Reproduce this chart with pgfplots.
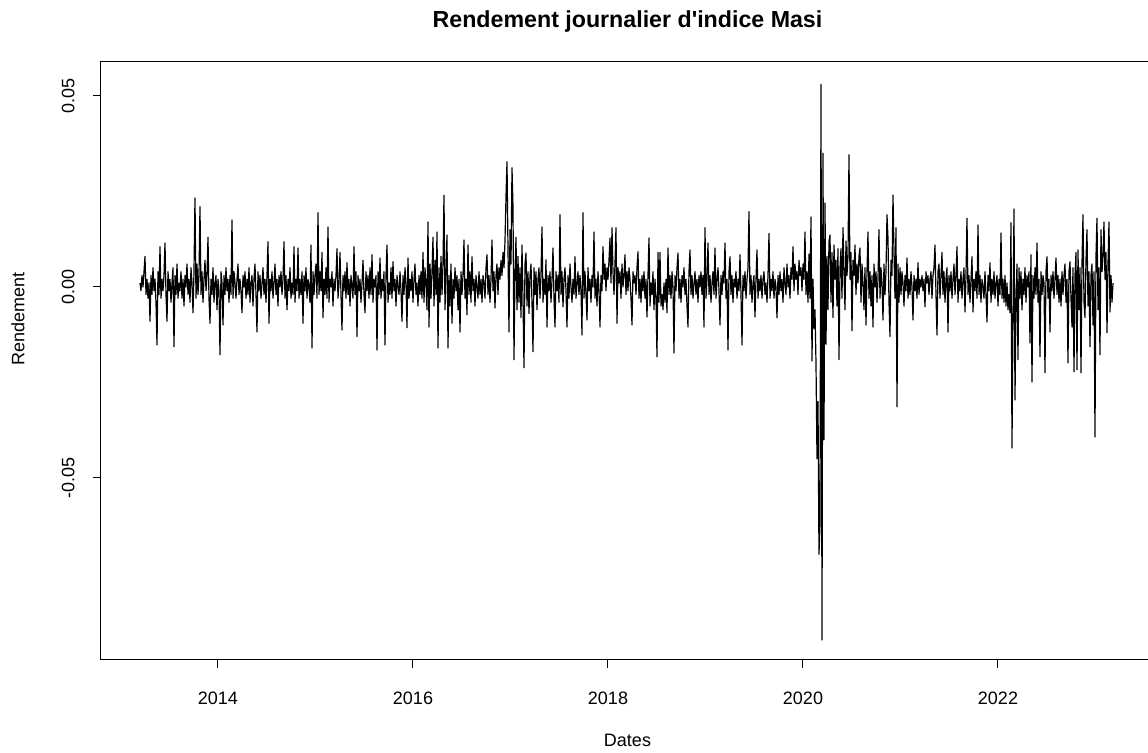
\documentclass[border=0pt]{standalone}
\usepackage{fontspec}
\setmainfont{Liberation Sans}
\usepackage{pgfplots}
\usepackage{pgfplotstable}
\pgfplotsset{compat=1.18}
% daily returns of the MASI index, one value per trading-day step
\pgfplotstableread[row sep=\\]{
r\\
0.001\\ -0.001\\ 0.003\\ 0.000\\ 0.004\\ 0.008\\ -0.002\\ 0.002\\ -0.003\\ 0.001\\ -0.009\\ 0.003\\ -0.002\\ 0.005\\ -0.001\\ 0.002\\ -0.004\\ -0.0152\\ 0.004\\ -0.002\\
0.0105\\ -0.003\\ 0.002\\ -0.001\\ 0.003\\ 0.0115\\ -0.002\\ -0.009\\ 0.004\\ -0.001\\ 0.002\\ -0.004\\ 0.001\\ 0.005\\ -0.0157\\ 0.003\\ -0.002\\ 0.006\\ -0.003\\ 0.001\\
-0.001\\ 0.004\\ -0.003\\ 0.002\\ -0.005\\ 0.003\\ 0.000\\ 0.006\\ -0.002\\ 0.002\\ -0.004\\ 0.005\\ 0.001\\ -0.0068\\ 0.004\\ 0.0233\\ -0.003\\ 0.006\\ -0.002\\ 0.003\\
0.021\\ -0.002\\ 0.004\\ -0.004\\ 0.002\\ 0.007\\ -0.001\\ 0.003\\ 0.013\\ -0.003\\ -0.0095\\ 0.002\\ -0.002\\ 0.005\\ -0.004\\ 0.001\\ 0.003\\ -0.006\\ 0.002\\ -0.001\\
-0.0178\\ 0.004\\ 0.001\\ -0.010\\ 0.003\\ -0.002\\ 0.005\\ -0.001\\ 0.002\\ -0.004\\ 0.003\\ -0.002\\ 0.0175\\ -0.003\\ 0.004\\ 0.001\\ -0.003\\ 0.002\\ 0.006\\ -0.002\\
0.002\\ -0.001\\ -0.0068\\ 0.003\\ 0.000\\ 0.004\\ -0.003\\ 0.002\\ -0.002\\ 0.005\\ -0.004\\ 0.001\\ 0.003\\ -0.005\\ 0.002\\ 0.006\\ -0.002\\ -0.0118\\ 0.004\\ -0.001\\
0.003\\ -0.003\\ 0.001\\ 0.005\\ -0.002\\ 0.002\\ -0.004\\ 0.003\\ 0.0118\\ -0.0095\\ 0.002\\ -0.001\\ 0.004\\ -0.003\\ 0.001\\ 0.006\\ -0.002\\ 0.002\\ -0.005\\ 0.003\\
0.000\\ 0.004\\ -0.002\\ 0.002\\ 0.0118\\ -0.003\\ 0.003\\ -0.006\\ 0.002\\ -0.001\\ 0.005\\ -0.003\\ 0.001\\ -0.002\\ 0.0105\\ -0.004\\ 0.002\\ -0.001\\ 0.0102\\ -0.003\\
0.002\\ -0.002\\ 0.004\\ -0.0095\\ 0.003\\ -0.001\\ 0.005\\ -0.003\\ 0.002\\ 0.000\\ -0.004\\ 0.011\\ -0.016\\ 0.004\\ -0.002\\ 0.003\\ 0.006\\ -0.003\\ 0.0194\\ -0.002\\
0.004\\ -0.001\\ 0.009\\ -0.008\\ 0.002\\ -0.002\\ 0.005\\ -0.003\\ 0.0157\\ -0.004\\ 0.002\\ 0.000\\ 0.004\\ -0.005\\ 0.002\\ -0.001\\ 0.003\\ 0.010\\ -0.003\\ 0.001\\
0.009\\ -0.002\\ -0.0113\\ 0.003\\ -0.001\\ 0.004\\ -0.003\\ 0.0063\\ -0.002\\ 0.002\\ -0.005\\ 0.003\\ 0.000\\ -0.003\\ 0.0105\\ -0.002\\ 0.004\\ -0.013\\ 0.003\\ -0.001\\
0.002\\ -0.004\\ 0.001\\ 0.007\\ -0.002\\ -0.0068\\ 0.004\\ -0.001\\ 0.003\\ -0.003\\ 0.005\\ -0.002\\ 0.0084\\ -0.004\\ 0.002\\ 0.000\\ 0.003\\ -0.0165\\ 0.004\\ -0.002\\
0.0076\\ -0.003\\ 0.002\\ -0.001\\ 0.004\\ -0.0152\\ 0.003\\ 0.011\\ -0.004\\ 0.001\\ -0.002\\ 0.005\\ -0.003\\ 0.0066\\ -0.001\\ 0.002\\ -0.005\\ 0.003\\ 0.000\\ -0.002\\
0.004\\ -0.001\\ -0.009\\ 0.003\\ -0.002\\ 0.005\\ 0.001\\ -0.0107\\ 0.0076\\ -0.003\\ 0.002\\ -0.001\\ 0.004\\ -0.004\\ 0.002\\ 0.006\\ -0.002\\ 0.001\\ -0.005\\ 0.003\\
-0.002\\ 0.004\\ -0.003\\ 0.009\\ -0.004\\ 0.005\\ 0.001\\ -0.006\\ 0.017\\ -0.0105\\ 0.006\\ -0.003\\ 0.004\\ 0.013\\ -0.005\\ 0.007\\ -0.002\\ 0.0144\\ -0.016\\ 0.005\\
-0.004\\ 0.008\\ -0.002\\ 0.006\\ 0.024\\ -0.006\\ 0.004\\ 0.0136\\ -0.016\\ 0.003\\ -0.005\\ 0.006\\ -0.0095\\ 0.002\\ -0.003\\ 0.005\\ -0.001\\ 0.003\\ -0.006\\ 0.002\\
-0.0118\\ 0.004\\ -0.002\\ 0.003\\ 0.0123\\ -0.003\\ 0.002\\ -0.0073\\ 0.011\\ -0.002\\ 0.004\\ -0.004\\ 0.0079\\ -0.001\\ 0.002\\ -0.005\\ 0.003\\ 0.000\\ -0.003\\ 0.004\\
-0.002\\ 0.002\\ -0.004\\ 0.003\\ 0.001\\ -0.003\\ 0.005\\ 0.0084\\ -0.002\\ 0.003\\ -0.004\\ 0.002\\ 0.0123\\ -0.001\\ 0.004\\ -0.0055\\ 0.003\\ 0.006\\ -0.002\\ 0.005\\
0.002\\ 0.007\\ 0.003\\ 0.009\\ 0.005\\ 0.012\\ 0.0236\\ 0.0328\\ 0.010\\ -0.0118\\ 0.015\\ 0.006\\ 0.0312\\ 0.021\\ -0.0191\\ 0.004\\ 0.013\\ -0.006\\ 0.008\\ -0.004\\
0.005\\ -0.008\\ 0.011\\ -0.003\\ -0.0212\\ 0.006\\ 0.0089\\ -0.005\\ 0.004\\ -0.007\\ 0.003\\ 0.006\\ -0.004\\ -0.017\\ 0.005\\ -0.002\\ 0.004\\ -0.006\\ 0.002\\ 0.005\\
-0.003\\ 0.003\\ 0.0157\\ -0.004\\ 0.002\\ -0.002\\ 0.0071\\ -0.0105\\ 0.003\\ -0.001\\ 0.004\\ -0.004\\ 0.002\\ 0.0102\\ -0.003\\ -0.0105\\ 0.004\\ -0.001\\ 0.003\\ -0.004\\
0.0189\\ -0.002\\ 0.004\\ -0.0052\\ 0.002\\ 0.005\\ -0.001\\ -0.0105\\ 0.003\\ -0.003\\ 0.006\\ 0.000\\ -0.004\\ 0.002\\ -0.002\\ 0.0079\\ -0.003\\ 0.001\\ 0.004\\ -0.002\\
0.003\\ -0.001\\ -0.0126\\ 0.0194\\ -0.003\\ 0.004\\ -0.002\\ -0.0087\\ 0.005\\ -0.001\\ 0.002\\ -0.004\\ 0.003\\ 0.000\\ 0.0144\\ -0.003\\ 0.002\\ -0.005\\ 0.004\\ -0.001\\
-0.0105\\ 0.003\\ -0.001\\ 0.0105\\ 0.002\\ 0.006\\ -0.001\\ 0.005\\ 0.002\\ 0.007\\ 0.0128\\ 0.001\\ 0.0155\\ 0.004\\ -0.002\\ 0.006\\ 0.0155\\ -0.0095\\ 0.005\\ 0.001\\
0.004\\ -0.003\\ 0.006\\ 0.000\\ 0.003\\ 0.0084\\ -0.002\\ 0.004\\ -0.001\\ 0.005\\ 0.002\\ -0.003\\ -0.010\\ 0.004\\ 0.001\\ 0.003\\ -0.002\\ 0.005\\ 0.0092\\ -0.003\\
0.002\\ -0.004\\ 0.003\\ -0.001\\ 0.004\\ -0.003\\ 0.002\\ -0.0079\\ 0.003\\ 0.0128\\ -0.005\\ 0.001\\ -0.002\\ 0.004\\ -0.006\\ 0.002\\ -0.003\\ -0.0183\\ 0.009\\ -0.004\\
0.009\\ -0.005\\ -0.002\\ -0.006\\ 0.001\\ -0.004\\ 0.002\\ -0.0068\\ 0.0102\\ -0.002\\ 0.003\\ -0.003\\ 0.004\\ 0.000\\ -0.0173\\ 0.003\\ -0.001\\ 0.005\\ 0.0089\\ -0.003\\
0.002\\ -0.004\\ 0.003\\ 0.000\\ 0.005\\ -0.002\\ 0.002\\ -0.005\\ -0.0105\\ 0.004\\ 0.0097\\ -0.002\\ 0.003\\ -0.003\\ 0.001\\ 0.004\\ -0.002\\ 0.002\\ -0.004\\ 0.003\\
0.000\\ 0.004\\ -0.002\\ 0.003\\ -0.0105\\ 0.0155\\ -0.003\\ 0.002\\ 0.0115\\ -0.002\\ 0.003\\ -0.004\\ 0.001\\ 0.004\\ -0.002\\ 0.0102\\ -0.003\\ 0.002\\ 0.005\\ -0.001\\
-0.010\\ 0.003\\ -0.002\\ 0.004\\ 0.001\\ 0.0115\\ -0.003\\ 0.002\\ -0.0165\\ 0.004\\ 0.0079\\ -0.002\\ 0.003\\ -0.004\\ 0.002\\ 0.000\\ 0.004\\ -0.003\\ 0.002\\ -0.001\\
0.0084\\ -0.002\\ -0.0152\\ 0.003\\ -0.001\\ 0.004\\ -0.003\\ 0.002\\ 0.005\\ 0.0197\\ -0.002\\ 0.003\\ -0.004\\ 0.001\\ 0.003\\ -0.0079\\ 0.002\\ 0.0097\\ -0.003\\ 0.002\\
-0.001\\ 0.003\\ -0.003\\ 0.002\\ 0.004\\ -0.002\\ 0.001\\ -0.004\\ 0.003\\ 0.014\\ -0.003\\ 0.002\\ -0.001\\ 0.004\\ -0.003\\ 0.002\\ 0.000\\ -0.0081\\ 0.003\\ -0.002\\
0.004\\ -0.001\\ 0.002\\ -0.004\\ 0.005\\ 0.001\\ -0.002\\ 0.006\\ 0.000\\ 0.003\\ -0.003\\ 0.005\\ 0.002\\ 0.0105\\ -0.001\\ 0.006\\ 0.002\\ 0.004\\ -0.002\\ 0.007\\
0.003\\ 0.005\\ -0.001\\ 0.006\\ 0.002\\ 0.0144\\ -0.002\\ 0.004\\ -0.004\\ 0.0086\\ -0.003\\ 0.0183\\ -0.0194\\ 0.002\\ -0.011\\ -0.006\\ -0.020\\ -0.045\\ -0.030\\ -0.070\\
-0.062\\ 0.053\\ -0.0925\\ 0.035\\ -0.040\\ 0.022\\ -0.015\\ 0.008\\ -0.006\\ 0.012\\ 0.0136\\ -0.004\\ 0.009\\ -0.008\\ 0.011\\ 0.002\\ 0.007\\ -0.005\\ 0.010\\ -0.019\\
0.005\\ 0.010\\ -0.003\\ 0.0155\\ 0.004\\ -0.006\\ 0.012\\ 0.003\\ 0.008\\ 0.0346\\ 0.002\\ 0.009\\ -0.0115\\ 0.007\\ 0.003\\ 0.011\\ -0.002\\ 0.006\\ 0.001\\ 0.008\\
0.0102\\ -0.004\\ 0.006\\ 0.001\\ -0.006\\ 0.005\\ -0.010\\ 0.004\\ 0.0144\\ -0.003\\ 0.004\\ -0.005\\ 0.003\\ -0.0105\\ 0.006\\ 0.000\\ 0.004\\ -0.004\\ 0.002\\ 0.015\\
-0.003\\ 0.005\\ 0.001\\ -0.0087\\ 0.006\\ -0.002\\ 0.004\\ 0.0189\\ 0.0128\\ -0.004\\ -0.013\\ 0.007\\ 0.003\\ 0.0241\\ 0.009\\ -0.003\\ 0.0155\\ -0.0314\\ 0.006\\ -0.004\\
0.005\\ -0.002\\ 0.004\\ 0.001\\ -0.005\\ 0.003\\ -0.001\\ 0.0076\\ -0.003\\ 0.002\\ -0.002\\ 0.004\\ 0.000\\ -0.0087\\ 0.003\\ -0.001\\ 0.002\\ -0.003\\ 0.0063\\ -0.002\\
0.002\\ 0.000\\ 0.003\\ -0.001\\ 0.002\\ -0.0052\\ 0.004\\ 0.001\\ 0.003\\ -0.002\\ 0.002\\ 0.004\\ -0.003\\ 0.003\\ 0.005\\ 0.011\\ -0.002\\ -0.0126\\ 0.004\\ 0.006\\
-0.003\\ 0.003\\ 0.009\\ -0.002\\ 0.004\\ -0.004\\ 0.002\\ 0.005\\ -0.0118\\ 0.003\\ -0.001\\ 0.004\\ -0.003\\ 0.002\\ 0.006\\ -0.002\\ 0.003\\ 0.0105\\ -0.004\\ 0.002\\
-0.001\\ 0.004\\ -0.003\\ 0.002\\ 0.005\\ -0.0066\\ 0.003\\ 0.018\\ -0.002\\ 0.003\\ -0.004\\ 0.002\\ 0.0079\\ -0.0066\\ 0.002\\ -0.001\\ 0.004\\ -0.003\\ 0.0162\\ -0.002\\
0.003\\ -0.004\\ 0.002\\ 0.000\\ -0.003\\ 0.004\\ -0.002\\ -0.0092\\ 0.003\\ -0.001\\ 0.0063\\ -0.004\\ 0.002\\ -0.002\\ 0.004\\ -0.003\\ 0.001\\ 0.003\\ -0.005\\ 0.002\\
-0.002\\ 0.0141\\ -0.003\\ 0.002\\ -0.004\\ 0.003\\ -0.005\\ 0.001\\ -0.006\\ -0.002\\ -0.0068\\ 0.0168\\ -0.0422\\ -0.008\\ 0.0204\\ -0.0296\\ -0.004\\ 0.006\\ -0.019\\ 0.005\\
-0.003\\ 0.004\\ -0.006\\ 0.002\\ -0.002\\ 0.005\\ -0.004\\ 0.003\\ 0.000\\ 0.004\\ -0.0147\\ 0.0084\\ -0.0249\\ 0.003\\ -0.003\\ 0.005\\ -0.002\\ 0.0115\\ -0.004\\ 0.002\\
-0.0183\\ 0.004\\ -0.002\\ 0.003\\ 0.001\\ -0.0225\\ 0.004\\ 0.0079\\ -0.003\\ 0.002\\ -0.0118\\ 0.003\\ -0.001\\ 0.004\\ -0.003\\ 0.002\\ 0.0076\\ -0.002\\ 0.003\\ -0.004\\
0.002\\ -0.005\\ 0.004\\ -0.002\\ 0.003\\ 0.006\\ -0.004\\ 0.002\\ -0.0199\\ 0.004\\ 0.0066\\ -0.003\\ -0.0105\\ 0.005\\ -0.0222\\ 0.003\\ 0.009\\ -0.0217\\ 0.0097\\ -0.006\\
0.005\\ -0.0225\\ 0.006\\ 0.0189\\ -0.004\\ -0.008\\ 0.007\\ 0.015\\ -0.005\\ 0.004\\ -0.0157\\ 0.003\\ 0.006\\ -0.010\\ 0.004\\ -0.0393\\ 0.008\\ 0.018\\ -0.006\\ 0.005\\
-0.0178\\ 0.015\\ 0.004\\ 0.008\\ 0.017\\ 0.002\\ 0.009\\ -0.012\\ 0.006\\ 0.017\\ -0.0066\\ 0.003\\ -0.004\\ 0.001\\
}\masi
\begin{document}
\begin{tikzpicture}
\path[use as bounding box] (-50.5pt,-46.5pt) rectangle (523.5pt,330pt);
\begin{axis}[
  at={(0,0)}, anchor=south west,
  scale only axis, width=526.5pt, height=299pt,
  xmin=2012.8, xmax=2023.6, ymin=-0.0977, ymax=0.0589,
  scaled y ticks=false, scaled x ticks=false,
  axis line style={black, line width=0.5pt},
  tick pos=left, tick align=outside, major tick length=4pt,
  tick style={black, line width=0.5pt},
  xtick={2014,2016,2018,2020,2022}, xticklabels={2014,2016,2018,2020,2022},
  ytick={-0.05,0,0.05}, yticklabels={-0.05,0.00,0.05},
  ticklabel style={font=\fontsize{9}{10}\selectfont},
  x tick label style={anchor=north, inner sep=0pt},
  xticklabel shift=12pt,
  y tick label style={rotate=90, anchor=south, inner sep=0pt},
  yticklabel shift=9pt,
  every axis title shift=0pt,
  title={Rendement journalier d\textquotesingle indice Masi},
  title style={at={([yshift=20pt]rel axis cs:0.5,1)}, anchor=center, font=\bfseries\fontsize{11.6}{13}\selectfont},
  xlabel={Dates}, ylabel={Rendement},
  xlabel style={at={([yshift=-40pt]rel axis cs:0.5,0)}, anchor=center, font=\fontsize{9}{10}\selectfont},
  ylabel style={at={([xshift=-41.5pt]rel axis cs:0,0.57)}, anchor=center, font=\fontsize{9}{10}\selectfont},
]
\addplot[black, line width=0.6pt, line join=round, mark=none]
  table[x expr=2013.2+\coordindex*0.0102564, y=r] {\masi};
\end{axis}
\end{tikzpicture}
\end{document}
